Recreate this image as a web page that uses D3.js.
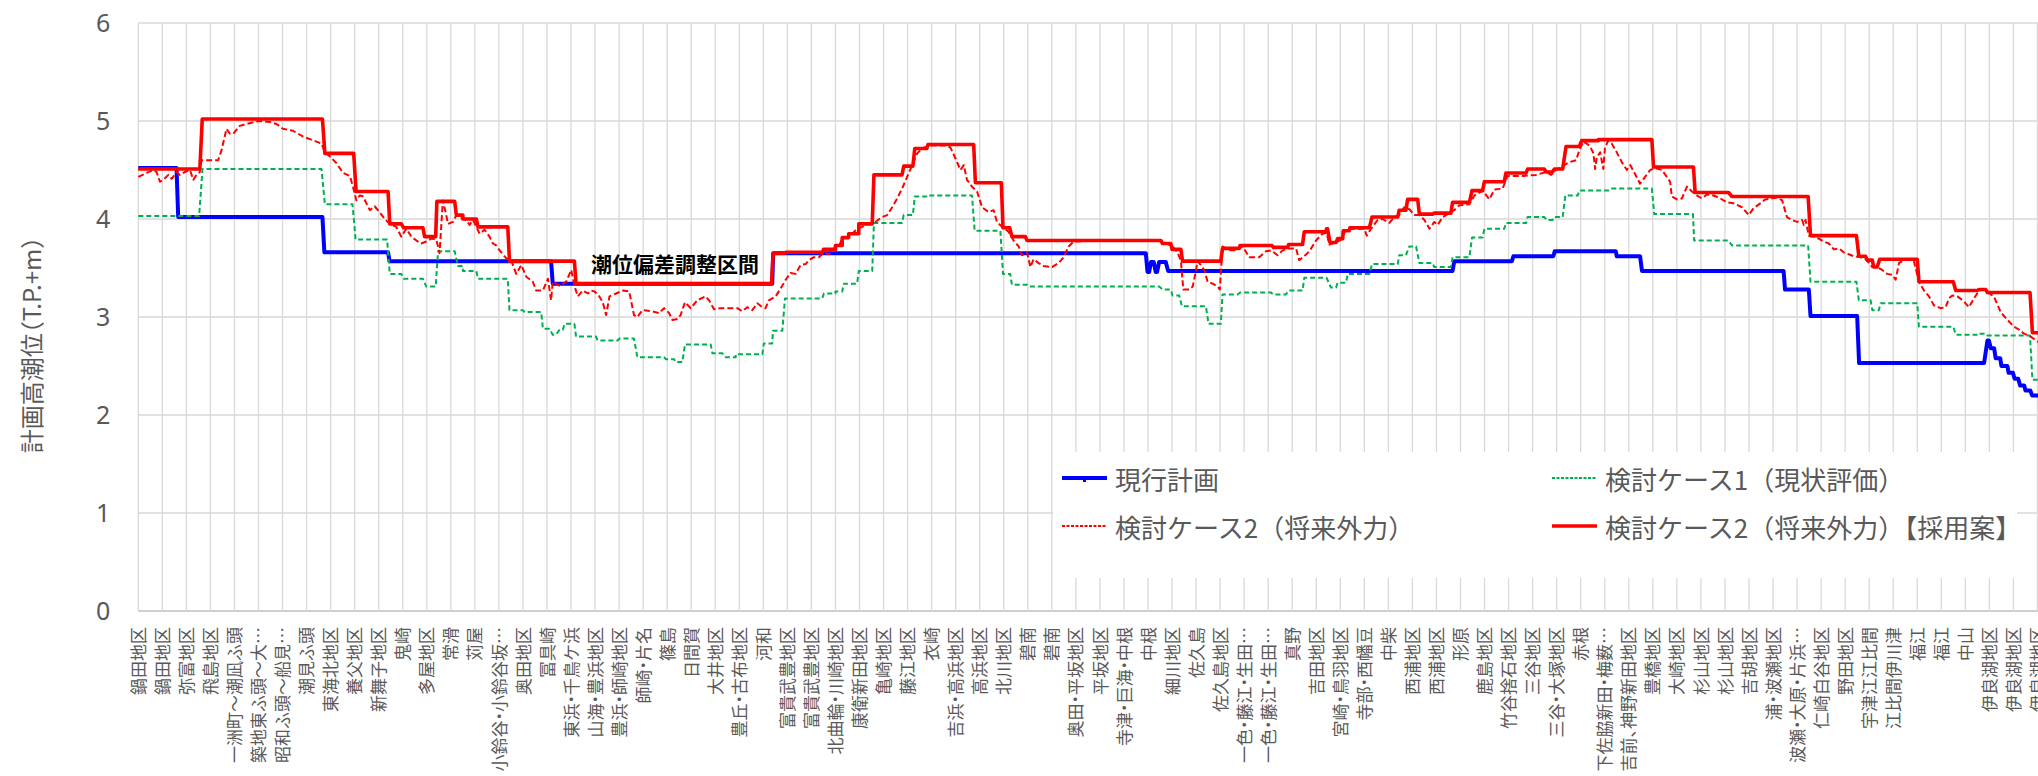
<!DOCTYPE html>
<html><head><meta charset="utf-8">
<script src="https://cdn.jsdelivr.net/npm/d3@7"></script>
<style>body{margin:0;background:#fff;overflow:hidden} svg{display:block} .xl{font-feature-settings:"halt" 1;}</style>
</head><body><svg id="chart" width="2038" height="776"></svg>
<script>
const categories = ["鍋田地区","鍋田地区","弥富地区","飛島地区","一洲町～潮凪ふ頭","築地東ふ頭～大…","昭和ふ頭～船見…","潮見ふ頭","東海北地区","養父地区",
"新舞子地区","鬼崎","多屋地区","常滑","苅屋","小鈴谷・小鈴谷坂…","奥田地区","冨具崎","東浜・千鳥ケ浜","山海・豊浜地区",
"豊浜・師崎地区","師崎・片名","篠島","日間賀","大井地区","豊丘・古布地区","河和","富貴武豊地区","富貴武豊地区","北曲輪・川崎地区",
"康衛新田地区","亀崎地区","藤江地区","衣崎","吉浜・高浜地区","高浜地区","北川地区","碧南","碧南","奥田・平坂地区",
"平坂地区","寺津・巨海・中根","中根","細川地区","佐久島","佐久島地区","一色・藤江・生田…","一色・藤江・生田…","真野","吉田地区",
"宮崎・鳥羽地区","寺部・西幡豆","中柴","西浦地区","西浦地区","形原","鹿島地区","竹谷捨石地区","三谷地区","三谷・大塚地区",
"赤根","下佐脇新田・梅薮…","吉前、神野新田地区","豊橋地区","大崎地区","杉山地区","杉山地区","吉胡地区","浦・波瀬地区","波瀬・大原・片浜…",
"仁崎白谷地区","野田地区","宇津江江比間","江比間伊川津","福江","福江","中山","伊良湖地区","伊良湖地区","伊良湖地区"];
const yTicks = [0,1,2,3,4,5,6];
const yTitle = "計画高潮位（T.P.+m）";
const seriesNames = ["現行計画","検討ケース1（現状評価）","検討ケース2（将来外力）","検討ケース2（将来外力）【採用案】"];
const annotation = "潮位偏差調整区間";

// step series: [from position, to position, value]
const currentPlan = [[0,1.59,4.52],[1.66,7.66,4.02],[7.74,10.39,3.66],[10.45,17.17,3.57],[17.24,26.37,3.34],[26.41,41.91,3.65],
[41.98,42.05,3.46],[42.12,42.24,3.56],[42.32,42.38,3.46],[42.46,42.74,3.56],[42.84,54.67,3.47],[54.74,57.14,3.57],[57.2,58.86,3.62],
[58.92,61.46,3.67],[61.5,62.47,3.62],[62.55,68.44,3.47],[68.5,69.49,3.28],[69.56,71.5,3.01],[71.58,76.78,2.53],
[76.92,76.98,2.76],[77.06,77.2,2.68],[77.26,77.45,2.58],[77.5,77.75,2.5],[77.8,77.98,2.43],[78.05,78.2,2.37],[78.28,78.45,2.3],[78.5,78.7,2.25],[78.78,79.1,2.2]];

const case1 = [[0,2.53,4.03],[2.67,7.62,4.51],[7.76,8.91,4.15],[9.04,10.35,3.79],[10.46,10.94,3.44],[11.04,11.84,3.39],[11.98,12.37,3.31],
[12.47,13.16,3.67],[13.3,13.5,3.52],[13.5,14.06,3.47],[14.13,15.37,3.39],[15.44,16.0,3.07],[16.07,16.76,3.05],[16.83,17.1,2.88],
[17.24,17.38,2.82],[17.52,17.66,2.87],[17.73,18.14,2.93],[18.21,19.04,2.80],[19.11,19.94,2.76],[20.01,20.62,2.78],[20.76,21.87,2.59],
[21.94,22.29,2.57],[22.35,22.63,2.54],[22.74,23.81,2.72],[23.88,24.29,2.63],[24.43,24.85,2.59],[24.85,25.96,2.62],[26.02,26.37,2.73],
[26.4,26.79,2.86],[26.9,28.45,3.19],[28.52,29.0,3.24],[29.0,29.28,3.26],[29.35,29.9,3.34],[29.97,30.53,3.47],[30.6,31.77,3.96],
[31.84,32.22,4.04],[32.3,32.88,4.23],[32.88,34.68,4.24],[34.79,35.86,3.88],[35.97,36.27,3.44],[36.34,36.97,3.33],[37.04,42.47,3.31],
[42.61,42.95,3.28],[43.02,43.3,3.22],[43.41,44.41,3.11],[44.52,45.03,2.93],[45.1,45.73,3.23],[45.83,47.12,3.25],[47.21,47.74,3.23],
[47.85,48.43,3.27],[48.5,49.43,3.40],[49.61,49.82,3.30],[49.89,50.24,3.35],[50.31,51.21,3.44],[51.32,52.39,3.54],[52.45,52.73,3.63],
[52.87,53.15,3.72],[53.29,53.84,3.55],[53.91,54.6,3.51],[54.67,55.37,3.61],[55.48,55.92,3.81],[55.99,56.82,3.90],[56.89,57.73,3.96],
[57.79,58.49,4.02],[58.59,58.83,3.99],[58.9,59.25,4.02],[59.36,59.88,4.24],[59.94,61.15,4.29],[61.22,62.96,4.31],[63.06,64.67,4.05],
[64.72,66.15,3.78],[66.29,69.46,3.73],[69.56,71.47,3.36],[71.57,72.06,3.17],[72.13,72.4,3.07],[72.47,74.0,3.14],[74.07,75.5,2.90],
[75.6,76.57,2.82],[76.57,76.85,2.83],[76.92,78.69,2.81],[78.79,80,2.36]];

const case2Adopted = [[0,2.56,4.51],[2.66,7.66,5.02],[7.76,8.96,4.67],[9.06,10.39,4.28],[10.46,10.94,3.95],[11.04,11.84,3.91],[11.91,12.37,3.82],
[12.42,13.16,4.18],[13.23,13.5,4.04],[13.5,14.06,4.0],[14.13,15.37,3.92],[15.44,18.14,3.57],[18.21,26.34,3.34],[26.41,26.9,3.65],
[26.93,28.45,3.66],[28.5,29.0,3.69],[29.0,29.28,3.73],[29.28,29.55,3.81],[29.55,29.97,3.85],[29.97,30.53,3.95],[30.6,31.77,4.45],
[31.84,32.22,4.54],[32.3,32.8,4.72],[32.85,34.75,4.76],[34.82,35.9,4.37],[35.97,36.25,3.91],[36.34,36.9,3.82],[36.97,42.54,3.78],
[42.6,42.95,3.75],[43.0,43.37,3.69],[43.44,45.03,3.57],[45.10,45.80,3.70],[45.83,47.16,3.73],[47.21,47.81,3.71],[47.85,48.43,3.74],
[48.50,49.40,3.87],[49.43,49.47,3.90],[49.57,49.82,3.76],[49.89,50.10,3.80],[50.12,50.37,3.88],[50.40,51.21,3.91],[51.32,52.39,4.02],
[52.45,52.73,4.09],[52.80,53.22,4.20],[53.29,53.84,4.05],[53.91,54.60,4.06],[54.67,55.37,4.17],[55.48,55.92,4.29],[55.99,56.82,4.38],
[56.89,57.73,4.47],[57.79,58.49,4.51],[58.56,58.83,4.48],[58.90,59.25,4.51],[59.39,59.94,4.74],[60.04,60.74,4.80],[60.74,62.96,4.81],
[63.03,64.69,4.53],[64.76,66.15,4.27],[66.29,69.46,4.23],[69.56,71.47,3.83],[71.57,71.85,3.62],[71.92,72.13,3.58],[72.19,72.33,3.51],
[72.44,74.0,3.59],[74.07,75.5,3.36],[75.6,76.5,3.27],[76.57,76.85,3.28],[76.92,78.69,3.25],[78.79,80,2.84]];

// point series: [position, value]
const case2 = [[0,4.43],[0.35,4.47],[0.62,4.50],[0.76,4.48],[0.90,4.38],[1.04,4.40],[1.25,4.45],[1.39,4.41],[1.59,4.48],[1.73,4.45],[1.94,4.48],[2.15,4.50],[2.29,4.40],[2.42,4.45],[2.56,4.48],[2.63,4.60],[3.32,4.60],[3.46,4.70],[3.67,4.92],[3.81,4.87],[3.95,4.87],[4.22,4.95],[4.50,4.97],[4.99,5.00],[5.47,4.99],[5.75,4.97],[6.02,4.92],[6.44,4.90],[6.86,4.84],[7.41,4.79],[7.62,4.77],[7.76,4.68],[7.96,4.64],[8.24,4.57],[8.52,4.47],[8.80,4.44],[8.93,4.33],[9.07,4.19],[9.21,4.24],[9.35,4.23],[9.63,4.09],[9.83,4.13],[10.04,4.07],[10.25,4.00],[10.46,3.95],[10.73,3.92],[10.94,3.82],[11.15,3.90],[11.36,3.82],[11.57,3.78],[11.77,3.75],[11.98,3.77],[12.19,3.80],[12.40,3.79],[12.53,3.65],[12.67,4.19],[12.81,4.04],[12.88,3.95],[13.09,3.97],[13.23,4.04],[13.50,4.00],[13.64,3.99],[13.78,3.94],[13.92,3.99],[14.20,3.85],[14.40,3.89],[14.61,3.82],[14.75,3.75],[14.89,3.73],[15.03,3.68],[15.30,3.60],[15.51,3.58],[15.72,3.44],[15.93,3.53],[16.14,3.41],[16.41,3.36],[16.55,3.27],[16.83,3.27],[17.04,3.39],[17.17,3.17],[17.24,3.36],[17.52,3.32],[17.80,3.36],[18.01,3.48],[18.14,3.32],[18.28,3.21],[18.49,3.27],[18.70,3.24],[18.84,3.27],[18.98,3.26],[19.18,3.21],[19.32,3.15],[19.46,3.02],[19.60,3.21],[19.88,3.24],[20.15,3.27],
[20.42,3.26],[20.62,3.02],[20.76,3.00],[20.97,3.07],[21.32,3.06],[21.66,3.04],[21.87,3.09],[22.08,3.04],[22.22,2.97],[22.42,2.98],[22.56,3.02],[22.74,3.15],[22.98,3.09],[23.25,3.17],[23.60,3.21],[23.74,3.17],[23.95,3.08],[24.22,3.09],[24.57,3.09],[24.92,3.09],[25.12,3.06],[25.33,3.10],[25.54,3.07],[25.75,3.14],[25.96,3.10],[26.09,3.09],[26.23,3.17],[26.51,3.21],[26.72,3.29],[26.93,3.38],[27.13,3.45],[27.34,3.44],[27.55,3.53],[27.76,3.54],[27.89,3.58],[28.10,3.61],[28.31,3.61],[28.52,3.66],[28.73,3.64],[28.93,3.70],[29.14,3.72],[29.28,3.80],[29.49,3.82],[29.70,3.85],[29.90,3.90],[30.11,3.92],[30.39,3.95],[30.66,3.97],[30.94,4.02],[31.15,4.04],[31.36,4.12],[31.57,4.21],[31.77,4.31],[31.98,4.43],[32.19,4.55],[32.40,4.67],[32.60,4.72],[32.88,4.75],[33.57,4.75],[33.78,4.73],[33.99,4.62],[34.20,4.50],[34.34,4.55],[34.47,4.40],[34.68,4.33],[34.89,4.28],[35.10,4.12],[35.37,4.07],[35.58,4.09],[35.72,3.97],[35.93,3.92],[36.20,3.87],[36.41,3.78],[36.62,3.72],[36.76,3.63],[36.97,3.66],[37.11,3.51],[37.24,3.59],[37.45,3.55],[37.66,3.52],[38.01,3.51],[38.28,3.55],[38.49,3.61],[38.70,3.72],[38.91,3.77],[39.67,3.78],
[40.5,3.78],[42.0,3.78],[42.54,3.78],[43.02,3.72],[43.23,3.66],[43.37,3.57],[43.47,3.28],[43.72,3.28],[43.86,3.31],[43.97,3.44],[44.06,3.57],[44.20,3.53],[44.34,3.48],[44.48,3.36],[44.69,3.34],[44.90,3.31],[44.99,3.28],[45.10,3.72],[45.38,3.68],[45.66,3.68],[45.94,3.72],[46.21,3.61],[46.63,3.61],[46.91,3.67],[47.12,3.68],[47.39,3.63],[47.60,3.68],[47.88,3.70],[48.16,3.70],[48.29,3.58],[48.50,3.62],[48.71,3.67],[48.99,3.78],[49.26,3.85],[49.43,3.86],[49.54,3.74],[49.82,3.76],[50.03,3.79],[50.24,3.89],[50.51,3.90],[51.00,3.90],[51.10,3.83],[51.28,3.90],[51.55,3.99],[51.76,4.00],[52.04,3.96],[52.25,4.02],[52.45,4.04],[52.66,4.12],[52.87,4.10],[53.08,4.04],[53.29,4.04],[53.50,3.99],[53.71,3.90],[53.91,3.97],[54.05,3.94],[54.26,4.02],[54.47,4.05],[54.74,4.09],[54.95,4.14],[55.37,4.15],[55.58,4.24],[55.92,4.29],[56.20,4.20],[56.41,4.30],[56.75,4.31],[56.96,4.44],[57.59,4.44],[58.14,4.45],[58.56,4.48],[58.77,4.45],[58.97,4.50],[59.25,4.54],[59.53,4.58],[59.81,4.60],[59.94,4.70],[60.11,4.79],
[60.25,4.77],[60.39,4.74],[60.53,4.67],[60.60,4.51],[60.67,4.63],[60.81,4.68],[60.94,4.51],[61.01,4.73],[61.15,4.80],[61.29,4.77],[61.50,4.68],[61.71,4.58],[61.92,4.50],[62.06,4.55],[62.26,4.46],[62.47,4.36],[62.68,4.43],[62.89,4.50],[63.10,4.52],[63.38,4.50],[63.58,4.43],[63.72,4.38],[63.79,4.23],[64.00,4.20],[64.21,4.21],[64.42,4.33],[64.63,4.28],[64.83,4.24],[65.04,4.21],[65.25,4.25],[65.53,4.24],[65.81,4.21],[66.08,4.17],[66.36,4.16],[66.71,4.12],[66.99,4.04],[67.19,4.11],[67.47,4.16],[67.68,4.20],[68.17,4.22],[68.38,4.19],[68.58,4.02],[68.79,3.99],[69.00,3.97],[69.21,3.99],[69.28,3.94],[69.35,3.99],[69.49,3.83],[69.69,3.82],[69.90,3.80],[70.11,3.77],[70.32,3.75],[70.53,3.69],[70.74,3.70],[70.94,3.66],[71.15,3.64],[71.36,3.62],[71.64,3.61],[71.85,3.59],[71.99,3.55],[72.13,3.51],[72.33,3.51],[72.54,3.48],[72.75,3.44],[72.96,3.43],[73.10,3.38],[73.24,3.55],[73.44,3.58],[73.65,3.59],[73.86,3.57],[74.07,3.36],[74.28,3.27],[74.49,3.21],[74.69,3.12],[74.97,3.09],[75.18,3.10],[75.32,3.19],[75.46,3.22],[75.67,3.21],[75.94,3.16],[76.15,3.10],[76.36,3.19],[76.57,3.27],[76.78,3.28],[76.99,3.24],[77.19,3.21],[77.47,3.05],[77.75,2.97],[78.03,2.90],[78.24,2.87],[78.44,2.83],[78.72,2.80],[79.00,2.75],[79.3,2.72]];

const svg = d3.select("#chart");
const font = '"Noto Sans CJK JP","Noto Sans",sans-serif';
const plotL = 138.3, step = 24.04, plotT = 23, plotB = 611;
const x = d3.scaleLinear().domain([0, 80]).range([plotL, plotL + 80 * step]);
const y = d3.scaleLinear().domain([0, 6]).range([plotB, plotT]);

// gridlines
const grid = svg.append("g");
grid.selectAll(".gh").data(yTicks).join("line").attr("class","gh")
  .attr("x1", x(0)).attr("x2", x(80)).attr("y1", d => y(d)).attr("y2", d => y(d))
  .attr("stroke", d => d === 0 ? "#bfbfbf" : "#d9d9d9").attr("stroke-width", 1.3);
grid.selectAll(".gv").data(d3.range(categories.length + 1)).join("line").attr("class","gv")
  .attr("x1", d => x(d)).attr("x2", d => x(d)).attr("y1", y(6)).attr("y2", y(0))
  .attr("stroke", "#d9d9d9").attr("stroke-width", 1.3);

// y axis
const yAxis = svg.append("g").attr("transform", `translate(${plotL},0)`)
  .call(d3.axisLeft(y).tickValues(yTicks).tickSize(0).tickPadding(28).tickFormat(d3.format("d")));
yAxis.select(".domain").remove();
yAxis.selectAll("text").attr("font-family", '"Noto Sans",sans-serif').attr("font-size", 25).attr("fill", "#595959");

svg.append("text").attr("class", "xl").attr("transform", `translate(30,345) rotate(-90)`)
  .attr("text-anchor", "middle").attr("dominant-baseline", "central")
  .attr("font-family", font).attr("font-size", 24).attr("fill", "#595959").text(yTitle);

// x axis
const xAxis = svg.append("g").attr("transform", `translate(0,${plotB})`)
  .call(d3.axisBottom(x).tickValues(d3.range(categories.length)).tickSize(0).tickFormat(i => categories[i]));
xAxis.select(".domain").remove();
xAxis.selectAll("text").attr("class", "xl").attr("transform", "rotate(-90)").attr("x", -16).attr("y", 0).attr("dy", "0.36em")
  .attr("text-anchor", "end").attr("font-family", font).attr("font-size", 17).attr("fill", "#595959");

// series
const toPts = segs => segs.flatMap(s => [[s[0], s[2]], [s[1], s[2]]]);
const line = d3.line().x(d => x(d[0])).y(d => y(d[1]));
const series = [
  {pts: toPts(currentPlan), color: "#0000FF", w: 4, dash: null},
  {pts: toPts(case1), color: "#00B050", w: 2, dash: "5,3"},
  {pts: case2, color: "#FF0000", w: 2, dash: "6,3"},
  {pts: toPts(case2Adopted), color: "#FF0000", w: 3.6, dash: null}
];
svg.append("g").selectAll("path").data(series).join("path")
  .attr("d", d => line(d.pts)).attr("fill", "none").attr("stroke", d => d.color)
  .attr("stroke-width", d => d.w).attr("stroke-dasharray", d => d.dash)
  .attr("stroke-linejoin", "round");

// annotation
svg.append("text").attr("x", 591).attr("y", 263).attr("dominant-baseline", "central")
  .attr("font-family", font).attr("font-size", 21).attr("font-weight", "bold").attr("fill", "#000").text(annotation);

// legend
const lg = svg.append("g");
lg.append("rect").attr("x", 1053).attr("y", 452).attr("width", 964).attr("height", 126).attr("fill", "#fff");
const legendPos = [[1062, 478], [1552, 478], [1062, 526], [1552, 526]];
series.forEach((s, i) => {
  const [lx, ly] = legendPos[i];
  lg.append("line").attr("x1", lx).attr("x2", lx + 45).attr("y1", ly).attr("y2", ly)
    .attr("stroke", s.color).attr("stroke-width", s.w).attr("stroke-dasharray", s.dash ? "3,1.5" : null);
  if (i === 0) lg.append("rect").attr("x", lx + 21).attr("y", ly).attr("width", 3).attr("height", 4).attr("fill", s.color);
  lg.append("text").attr("x", lx + 53).attr("y", ly).attr("dominant-baseline", "central")
    .attr("font-family", font).attr("font-size", 26).attr("fill", "#595959").text(seriesNames[i]);
});
</script></body></html>
